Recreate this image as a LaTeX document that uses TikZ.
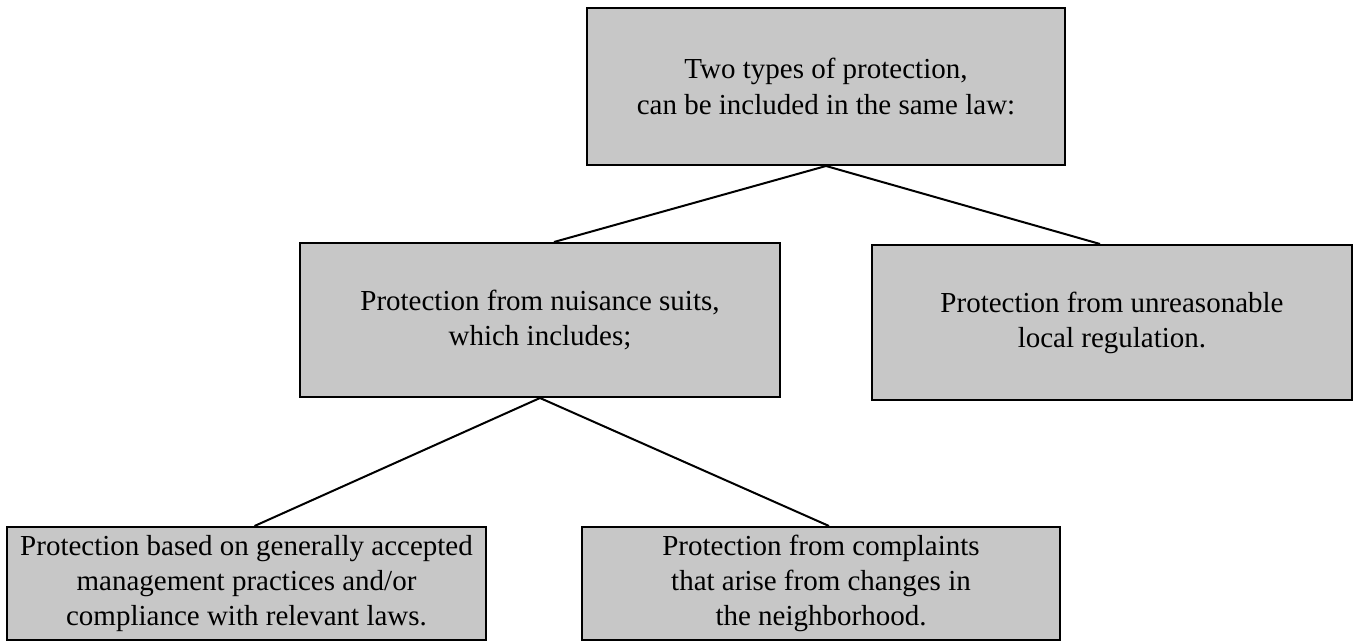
\documentclass[tikz,border=0pt]{standalone}
\usepackage{fontspec}
\setmainfont{Liberation Serif}
\usetikzlibrary{positioning}

\begin{document}
\begin{tikzpicture}[x=0.5pt, y=-0.5pt,
    box/.style={draw, line width=1pt, fill=black!22, inner sep=0pt,
        align=center, font=\fontsize{14.5}{17.5}\selectfont},
    link/.style={line width=1pt}]
    \useasboundingbox (0,0) rectangle (1354,641);

    % Top box
    \node[box, minimum width=239pt, minimum height=78.5pt] (law) at (826,86.5)
        {Two types of protection,\\can be included in the same law:};

    % Middle row
    \node[box, minimum width=240pt, minimum height=77pt] (nuisance) at (540,320)
        {Protection from nuisance suits,\\which includes;};
    \node[box, minimum width=240pt, minimum height=77.5pt] (regulation) at (1112,322.5)
        {Protection from unreasonable\\local regulation.};

    % Bottom row
    \node[box, minimum width=239.5pt, minimum height=56.5pt] (practices) at (246.5,583.5)
        {Protection based on generally accepted\\management practices and/or\\compliance with relevant laws.};
    \node[box, minimum width=239pt, minimum height=56.5pt] (complaints) at (821,583.5)
        {Protection from complaints\\that arise from changes in\\the neighborhood.};

    % Connectors
    \draw[link] (law.south) -- ([xshift=7pt]nuisance.north);
    \draw[link] (law.south) -- ([xshift=-6pt]regulation.north);
    \draw[link] (nuisance.south) -- ([xshift=4pt]practices.north);
    \draw[link] (nuisance.south) -- ([xshift=4pt]complaints.north);
\end{tikzpicture}
\end{document}
